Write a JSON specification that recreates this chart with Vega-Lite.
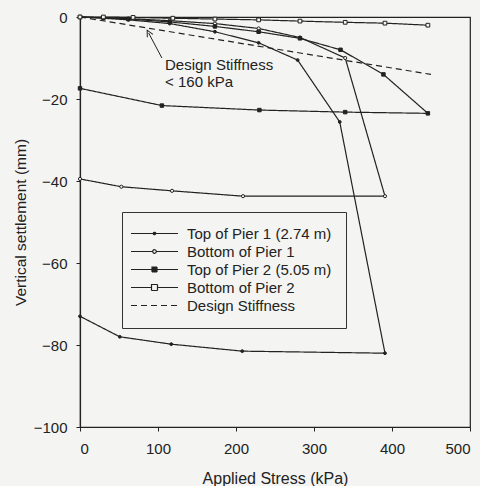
{
  "$schema": "https://vega.github.io/schema/vega-lite/v6.json",
  "width": 390,
  "height": 410,
  "autosize": {"type": "none"},
  "padding": {"left": 80, "top": 17, "right": 10, "bottom": 59},
  "background": "#f4f4f2",
  "config": {
    "font": "Liberation Sans",
    "view": {"stroke": "#222", "strokeWidth": 1.2},
    "axis": {"domainColor": "#222", "tickColor": "#222", "labelColor": "#222", "titleColor": "#222", "grid": false, "labelFontSize": 15, "titleFontSize": 15.5, "titleFontWeight": "normal", "tickSize": 4, "domainWidth": 1.2}
  },
  "datasets": {
    "curves": [
      {"series": "Top of Pier 1 (2.74 m)", "i": 1, "stress": 0, "settle": 0},
      {"series": "Top of Pier 1 (2.74 m)", "i": 2, "stress": 30, "settle": -0.3},
      {"series": "Top of Pier 1 (2.74 m)", "i": 3, "stress": 62, "settle": -0.7},
      {"series": "Top of Pier 1 (2.74 m)", "i": 4, "stress": 115, "settle": -1.6},
      {"series": "Top of Pier 1 (2.74 m)", "i": 5, "stress": 173, "settle": -3.6},
      {"series": "Top of Pier 1 (2.74 m)", "i": 6, "stress": 229, "settle": -6.3},
      {"series": "Top of Pier 1 (2.74 m)", "i": 7, "stress": 279, "settle": -10.5},
      {"series": "Top of Pier 1 (2.74 m)", "i": 8, "stress": 333, "settle": -25.6},
      {"series": "Top of Pier 1 (2.74 m)", "i": 9, "stress": 391, "settle": -82},
      {"series": "Top of Pier 1 (2.74 m)", "i": 10, "stress": 208, "settle": -81.5},
      {"series": "Top of Pier 1 (2.74 m)", "i": 11, "stress": 117, "settle": -79.8},
      {"series": "Top of Pier 1 (2.74 m)", "i": 12, "stress": 51, "settle": -78},
      {"series": "Top of Pier 1 (2.74 m)", "i": 13, "stress": 0, "settle": -73},
      {"series": "Bottom of Pier 1", "i": 1, "stress": 0, "settle": 0},
      {"series": "Bottom of Pier 1", "i": 2, "stress": 30, "settle": -0.2},
      {"series": "Bottom of Pier 1", "i": 3, "stress": 62, "settle": -0.4},
      {"series": "Bottom of Pier 1", "i": 4, "stress": 115, "settle": -0.9},
      {"series": "Bottom of Pier 1", "i": 5, "stress": 173, "settle": -1.6},
      {"series": "Bottom of Pier 1", "i": 6, "stress": 229, "settle": -2.8},
      {"series": "Bottom of Pier 1", "i": 7, "stress": 282, "settle": -5},
      {"series": "Bottom of Pier 1", "i": 8, "stress": 340, "settle": -10},
      {"series": "Bottom of Pier 1", "i": 9, "stress": 391, "settle": -43.7},
      {"series": "Bottom of Pier 1", "i": 10, "stress": 209, "settle": -43.7},
      {"series": "Bottom of Pier 1", "i": 11, "stress": 118, "settle": -42.4},
      {"series": "Bottom of Pier 1", "i": 12, "stress": 53, "settle": -41.4},
      {"series": "Bottom of Pier 1", "i": 13, "stress": 0, "settle": -39.5},
      {"series": "Top of Pier 2 (5.05 m)", "i": 1, "stress": 0, "settle": 0},
      {"series": "Top of Pier 2 (5.05 m)", "i": 2, "stress": 30, "settle": -0.2},
      {"series": "Top of Pier 2 (5.05 m)", "i": 3, "stress": 62, "settle": -0.5},
      {"series": "Top of Pier 2 (5.05 m)", "i": 4, "stress": 115, "settle": -1.2},
      {"series": "Top of Pier 2 (5.05 m)", "i": 5, "stress": 173, "settle": -2.3},
      {"series": "Top of Pier 2 (5.05 m)", "i": 6, "stress": 229, "settle": -3.6},
      {"series": "Top of Pier 2 (5.05 m)", "i": 7, "stress": 282, "settle": -5.2},
      {"series": "Top of Pier 2 (5.05 m)", "i": 8, "stress": 334, "settle": -8},
      {"series": "Top of Pier 2 (5.05 m)", "i": 9, "stress": 389, "settle": -14},
      {"series": "Top of Pier 2 (5.05 m)", "i": 10, "stress": 446, "settle": -23.5},
      {"series": "Top of Pier 2 (5.05 m)", "i": 11, "stress": 340, "settle": -23.2},
      {"series": "Top of Pier 2 (5.05 m)", "i": 12, "stress": 230, "settle": -22.7},
      {"series": "Top of Pier 2 (5.05 m)", "i": 13, "stress": 105, "settle": -21.6},
      {"series": "Top of Pier 2 (5.05 m)", "i": 14, "stress": 0, "settle": -17.4},
      {"series": "Bottom of Pier 2", "i": 1, "stress": 0, "settle": 0},
      {"series": "Bottom of Pier 2", "i": 2, "stress": 30, "settle": 0},
      {"series": "Bottom of Pier 2", "i": 3, "stress": 68, "settle": -0.1},
      {"series": "Bottom of Pier 2", "i": 4, "stress": 119, "settle": -0.3},
      {"series": "Bottom of Pier 2", "i": 5, "stress": 173, "settle": -0.5},
      {"series": "Bottom of Pier 2", "i": 6, "stress": 229, "settle": -0.7},
      {"series": "Bottom of Pier 2", "i": 7, "stress": 282, "settle": -1},
      {"series": "Bottom of Pier 2", "i": 8, "stress": 340, "settle": -1.3},
      {"series": "Bottom of Pier 2", "i": 9, "stress": 391, "settle": -1.5},
      {"series": "Bottom of Pier 2", "i": 10, "stress": 446, "settle": -2},
      {"series": "Design Stiffness", "i": 1, "stress": 0, "settle": 0},
      {"series": "Design Stiffness", "i": 2, "stress": 450, "settle": -14}
    ],
    "notes": [
      {"line": "Design Stiffness", "stress": 109, "settle": -11.7},
      {"line": "< 160 kPa", "stress": 109, "settle": -15.9}
    ],
    "arrow": [
      {"x1": 105, "y1": -10, "x2": 88, "y2": -3.9}
    ]
  },
  "layer": [
    {
      "data": {"name": "curves"},
      "mark": {"type": "line", "color": "#222", "strokeWidth": 1.2},
      "encoding": {
        "x": {"field": "stress", "type": "quantitative", "scale": {"domain": [0, 500], "nice": false},
          "axis": {"values": [0, 100, 200, 300, 400, 500], "title": "Applied Stress (kPa)", "labelPadding": 10, "titlePadding": 14, "titleFontSize": 16}},
        "y": {"field": "settle", "type": "quantitative", "scale": {"domain": [-100, 0], "nice": false},
          "axis": {"values": [0, -20, -40, -60, -80, -100], "title": "Vertical settlement (mm)", "labelPadding": 9, "titlePadding": 5}},
        "detail": {"field": "series"},
        "order": {"field": "i", "type": "quantitative"},
        "strokeDash": {
          "field": "series", "type": "nominal",
          "scale": {"domain": ["Top of Pier 1 (2.74 m)", "Bottom of Pier 1", "Top of Pier 2 (5.05 m)", "Bottom of Pier 2", "Design Stiffness"],
            "range": [[1, 0], [1, 0], [1, 0], [1, 0], [6, 4]]},
          "legend": {
            "title": null,
            "orient": "none",
            "legendX": 42,
            "legendY": 195,
            "padding": 14,
            "strokeColor": "#333",
            "fillColor": "#f4f4f2",
            "labelFontSize": 15,
            "labelColor": "#222",
            "symbolSize": 100,
            "symbolOffset": 11,
            "labelOffset": 25,
            "rowPadding": 2,
            "symbolStrokeColor": "#222",
            "symbolStrokeWidth": 1.2,
            "encode": {
              "symbols": {
                "update": {
                  "shape": {"signal": "datum.value === 'Top of Pier 1 (2.74 m)' ? 'M-4.7,0H4.7M-0.25,0A0.25,0.25 0 1,0 0.25,0A0.25,0.25 0 1,0 -0.25,0Z' : datum.value === 'Bottom of Pier 1' ? 'M-4.7,0H-0.36M0.36,0H4.7M-0.36,0A0.36,0.36 0 1,0 0.36,0A0.36,0.36 0 1,0 -0.36,0Z' : datum.value === 'Top of Pier 2 (5.05 m)' ? 'M-4.7,0H4.7M-0.5,-0.5H0.5V0.5H-0.5Z' : datum.value === 'Bottom of Pier 2' ? 'M-4.7,0H-0.6M0.6,0H4.7M-0.6,-0.6H0.6V0.6H-0.6Z' : 'M-4.7,0H4.7'"},
                  "fill": {"signal": "(datum.value === 'Top of Pier 1 (2.74 m)' || datum.value === 'Top of Pier 2 (5.05 m)') ? '#222' : (datum.value === 'Design Stiffness' ? 'transparent' : '#f4f4f2')"},
                  "stroke": {"value": "#222"},
                  "strokeWidth": {"value": 1.2},
                  "size": {"value": 100},
                  "opacity": {"value": 1}
                }
              }
            }
          }
        }
      }
    },
    {
      "data": {"name": "curves"},
      "transform": [{"filter": "datum.series !== 'Design Stiffness'"}],
      "mark": {"type": "point", "filled": false, "stroke": "#222", "strokeWidth": 1, "opacity": 1},
      "encoding": {
        "x": {"field": "stress", "type": "quantitative"},
        "y": {"field": "settle", "type": "quantitative"},
        "shape": {"field": "series", "type": "nominal",
          "scale": {"domain": ["Top of Pier 1 (2.74 m)", "Bottom of Pier 1", "Top of Pier 2 (5.05 m)", "Bottom of Pier 2"], "range": ["circle", "circle", "square", "square"]},
          "legend": null},
        "fill": {"field": "series", "type": "nominal",
          "scale": {"domain": ["Top of Pier 1 (2.74 m)", "Bottom of Pier 1", "Top of Pier 2 (5.05 m)", "Bottom of Pier 2"], "range": ["#222", "#f4f4f2", "#222", "#f4f4f2"]},
          "legend": null},
        "size": {"field": "series", "type": "nominal",
          "scale": {"domain": ["Top of Pier 1 (2.74 m)", "Bottom of Pier 1", "Top of Pier 2 (5.05 m)", "Bottom of Pier 2"], "range": [8, 14, 22, 30]},
          "legend": null}
      }
    },
    {
      "data": {"name": "arrow"},
      "mark": {"type": "rule", "color": "#222", "strokeWidth": 1},
      "encoding": {
        "x": {"field": "x1", "type": "quantitative"},
        "y": {"field": "y1", "type": "quantitative"},
        "x2": {"field": "x2"},
        "y2": {"field": "y2"}
      }
    },
    {
      "data": {"name": "arrow"},
      "mark": {"type": "point", "shape": "M-1,1L0,-1L1,1", "filled": false, "stroke": "#222", "strokeWidth": 1, "size": 40, "angle": 332, "opacity": 1},
      "encoding": {
        "x": {"field": "x2", "type": "quantitative"},
        "y": {"field": "y2", "type": "quantitative"}
      }
    },
    {
      "data": {"name": "notes"},
      "mark": {"type": "text", "align": "left", "baseline": "middle", "fontSize": 15, "color": "#222"},
      "encoding": {
        "x": {"field": "stress", "type": "quantitative"},
        "y": {"field": "settle", "type": "quantitative"},
        "text": {"field": "line"}
      }
    }
  ]
}
